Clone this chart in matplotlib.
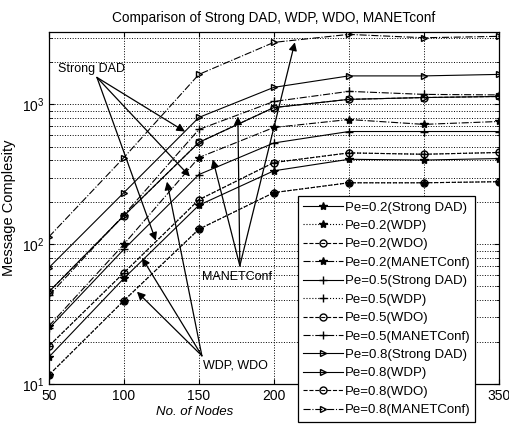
import matplotlib
matplotlib.use("Agg")
import matplotlib.pyplot as plt
from matplotlib.ticker import NullLocator, FixedLocator

plt.rcParams['font.family'] = ['Liberation Sans', 'DejaVu Sans']

nodes = [50, 100, 150, 200, 250, 300, 350]

# Pe = 0.2
sd_02 = [15.6, 57, 190, 335, 405, 400, 410]
wdp_02 = [11.6, 39.5, 128, 234, 275, 275, 280]
wdo_02 = [11.6, 39.5, 128, 234, 275, 275, 280]
mc_02 = [26, 100, 417, 684, 780, 720, 755]
# Pe = 0.5
sd_05 = [25, 92, 315, 530, 640, 640, 640]
wdp_05 = [18.7, 62.5, 208, 384, 450, 440, 453]
wdo_05 = [18.7, 62.5, 208, 384, 450, 440, 453]
mc_05 = [43, 162, 662, 1050, 1240, 1180, 1170]
# Pe = 0.8
sd_08 = [68, 234, 807, 1325, 1600, 1600, 1640]
wdp_08 = [45.7, 160, 535, 950, 1087, 1120, 1140]
wdo_08 = [45.7, 160, 535, 950, 1087, 1120, 1140]
mc_08 = [113, 417, 1640, 2780, 3170, 3000, 3070]

fig = plt.figure(figsize=(5.1, 4.29), dpi=100)
ax = fig.add_axes([0.096, 0.105, 0.882, 0.8205])

lw = 0.8
ms = 5
ax.plot(nodes, sd_02, '-', marker='*', color='k', lw=lw, ms=6, label='Pe=0.2(Strong DAD)')
ax.plot(nodes, wdp_02, ':', marker='*', color='k', lw=lw, ms=6, label='Pe=0.2(WDP)')
ax.plot(nodes, wdo_02, '--', marker='o', mfc='none', color='k', lw=lw, ms=ms, label='Pe=0.2(WDO)')
ax.plot(nodes, mc_02, '-.', marker='*', color='k', lw=lw, ms=6, label='Pe=0.2(MANETConf)')
ax.plot(nodes, sd_05, '-', marker='+', color='k', lw=lw, ms=6, label='Pe=0.5(Strong DAD)')
ax.plot(nodes, wdp_05, ':', marker='+', color='k', lw=lw, ms=6, label='Pe=0.5(WDP)')
ax.plot(nodes, wdo_05, '--', marker='o', mfc='none', color='k', lw=lw, ms=ms, label='Pe=0.5(WDO)')
ax.plot(nodes, mc_05, '-.', marker='+', color='k', lw=lw, ms=6, label='Pe=0.5(MANETConf)')
ax.plot(nodes, sd_08, '-', marker='>', mfc='none', color='k', lw=lw, ms=ms, label='Pe=0.8(Strong DAD)')
ax.plot(nodes, wdp_08, 'none', marker='>', mfc='none', color='k', lw=lw, ms=ms, label='Pe=0.8(WDP)')
ax.plot(nodes, wdo_08, '--', marker='o', mfc='none', color='k', lw=lw, ms=ms, label='Pe=0.8(WDO)')
ax.plot(nodes, mc_08, '-.', marker='>', mfc='none', color='k', lw=lw, ms=ms, label='Pe=0.8(MANETConf)')

ax.set_yscale('log')
ax.set_xlim(50, 350)
ax.set_ylim(10, 3300)
ax.xaxis.set_major_locator(FixedLocator(nodes))
ax.xaxis.set_minor_locator(NullLocator())
ax.grid(True, which='both', linestyle=':', color='k', lw=0.7)
ax.tick_params(which='both', direction='in', top=True, right=True, labelsize=10)
for s in ax.spines.values():
    s.set_linewidth(0.9)

ax.set_title('Comparison of Strong DAD, WDP, WDO, MANETconf', fontsize=9.8, pad=7)
ax.set_xlabel('No. of Nodes', fontsize=9.5, style='italic', labelpad=2, x=0.324)
ax.set_ylabel('Message Complesity', fontsize=10.5)

arr = dict(arrowstyle='-|>', color='k', lw=0.9, mutation_scale=12, shrinkA=0, shrinkB=0)

# Strong DAD labels
ax.text(56, 1780, 'Strong DAD', fontsize=9, va='center')
for hx, hy in [(140.7, 640), (144, 305), (121.3, 106)]:
    ax.annotate('', xy=(hx, hy), xytext=(82, 1560), arrowprops=arr)

# MANETConf labels
ax.text(152, 58.5, 'MANETConf', fontsize=9, va='center')
for hx, hy in [(159.3, 404), (176, 820), (214, 2780)]:
    ax.annotate('', xy=(hx, hy), xytext=(177.3, 70), arrowprops=arr)

# WDP, WDO labels
ax.text(152.7, 13.5, 'WDP, WDO', fontsize=9, va='center')
for hx, hy in [(128.7, 280), (112, 80), (108.7, 45.7)]:
    ax.annotate('', xy=(hx, hy), xytext=(152, 15.9), arrowprops=arr)

leg = ax.legend(loc='upper left', bbox_to_anchor=(0.553, 0.534), fontsize=9.5,
                frameon=True, fancybox=False, edgecolor='k', framealpha=1,
                labelspacing=0.47, handlelength=3.0, handletextpad=0.15,
                borderpad=0.4, borderaxespad=0)
leg.get_frame().set_linewidth(0.9)
leg.set_zorder(10)

fig.savefig('out.png', dpi=100)
